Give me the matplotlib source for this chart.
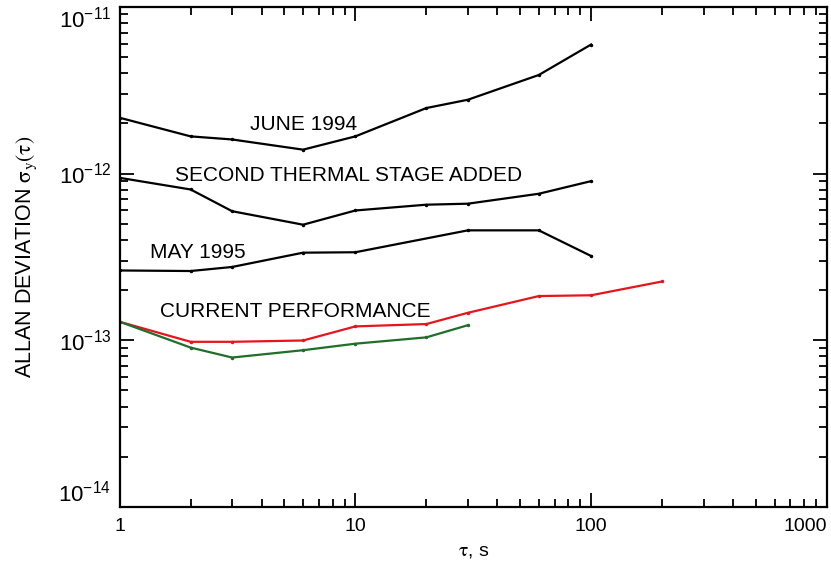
import numpy as np
import matplotlib as mpl
mpl.use('Agg')
import matplotlib.pyplot as plt
from matplotlib.ticker import LogLocator, NullFormatter

mpl.rc('font', family=['Liberation Sans', 'DejaVu Sans'], size=15)
mpl.rcParams['mathtext.fontset'] = 'stix'

# averaging times (s)
tau_black = [1, 2, 3, 6, 10, 20, 30, 60, 100]
tau_may = [1, 2, 3, 6, 10, 30, 60, 100]
tau_red = [1, 2, 3, 6, 10, 20, 30, 60, 100, 200]
tau_green = [1, 2, 3, 6, 10, 20, 30]

# Allan deviation values
june_1994 = [2.16e-12, 1.67e-12, 1.60e-12, 1.39e-12, 1.67e-12, 2.47e-12, 2.77e-12, 3.90e-12, 5.94e-12]
second_stage = [9.42e-13, 8.02e-13, 5.94e-13, 4.93e-13, 6.0e-13, 6.5e-13, 6.59e-13, 7.56e-13, 9.0e-13]
may_1995 = [2.62e-13, 2.60e-13, 2.75e-13, 3.35e-13, 3.37e-13, 4.56e-13, 4.56e-13, 3.20e-13]
current_red = [1.29e-13, 9.78e-14, 9.78e-14, 9.96e-14, 1.21e-13, 1.25e-13, 1.46e-13, 1.84e-13, 1.86e-13, 2.25e-13]
current_green = [1.29e-13, 9.03e-14, 7.87e-14, 8.71e-14, 9.53e-14, 1.04e-13, 1.23e-13]

fig = plt.figure(figsize=(8.31, 5.67), dpi=100)
ax = fig.add_axes([0.144, 0.106, 0.851, 0.882])

style = dict(lw=1.6, marker='o', ms=1.5)
ax.plot(tau_black, june_1994, color='black', **style)
ax.plot(tau_black, second_stage, color='black', **style)
ax.plot(tau_may, may_1995, color='black', **style)
ax.plot(tau_red, current_red, color='#e8141c', **style)
ax.plot(tau_green, current_green, color='#1f6e2a', **style)

ax.text(3.56, 1.96e-12, 'JUNE 1994', ha='left', va='center')
ax.text(1.716, 9.73e-13, 'SECOND THERMAL STAGE ADDED', ha='left', va='center')
ax.text(1.345, 3.37e-13, 'MAY 1995', ha='left', va='center')
ax.text(1.48, 1.49e-13, 'CURRENT PERFORMANCE', ha='left', va='center')

ax.set_xscale('log')
ax.set_yscale('log')
ax.set_xlim(1, 1000)
ax.set_ylim(1e-14, 1e-11)
ax.set_xticks([1, 10, 100, 1000])
ax.set_xticklabels(['1', '10', '100', '1000'])
ax.set_yticks([1e-14, 1e-13, 1e-12, 1e-11])
ax.set_yticklabels([r'$\mathregular{10^{-14}}$', r'$\mathregular{10^{-13}}$',
                    r'$\mathregular{10^{-12}}$', r'$\mathregular{10^{-11}}$'])
ax.xaxis.set_minor_locator(LogLocator(base=10, subs=np.arange(2, 10)))
ax.yaxis.set_minor_locator(LogLocator(base=10, subs=np.arange(2, 10)))
ax.xaxis.set_minor_formatter(NullFormatter())
ax.yaxis.set_minor_formatter(NullFormatter())

ax.tick_params(which='both', direction='in', top=True, right=True, width=1.3)
ax.tick_params(which='major', length=10, pad=8)
ax.tick_params(axis='x', labelsize=14)
ax.tick_params(axis='y', labelsize=16, pad=6)
ax.tick_params(which='minor', length=6)
for s in ax.spines.values():
    s.set_linewidth(1.6)

# keep the edge labels inside the figure like the original
xl = ax.get_xticklabels()
xl[-1].set_horizontalalignment('right')
yl = ax.get_yticklabels()
yl[0].set_verticalalignment('bottom')
yl[-1].set_verticalalignment('top')

ax.set_xlabel(r'$\mathrm{\tau}$, s', fontsize=14, labelpad=6)
ax.set_ylabel(r'ALLAN DEVIATION $\mathrm{\sigma_{y}(\tau)}$', fontsize=15.5, labelpad=14)

plt.savefig('out.png', dpi=100)
